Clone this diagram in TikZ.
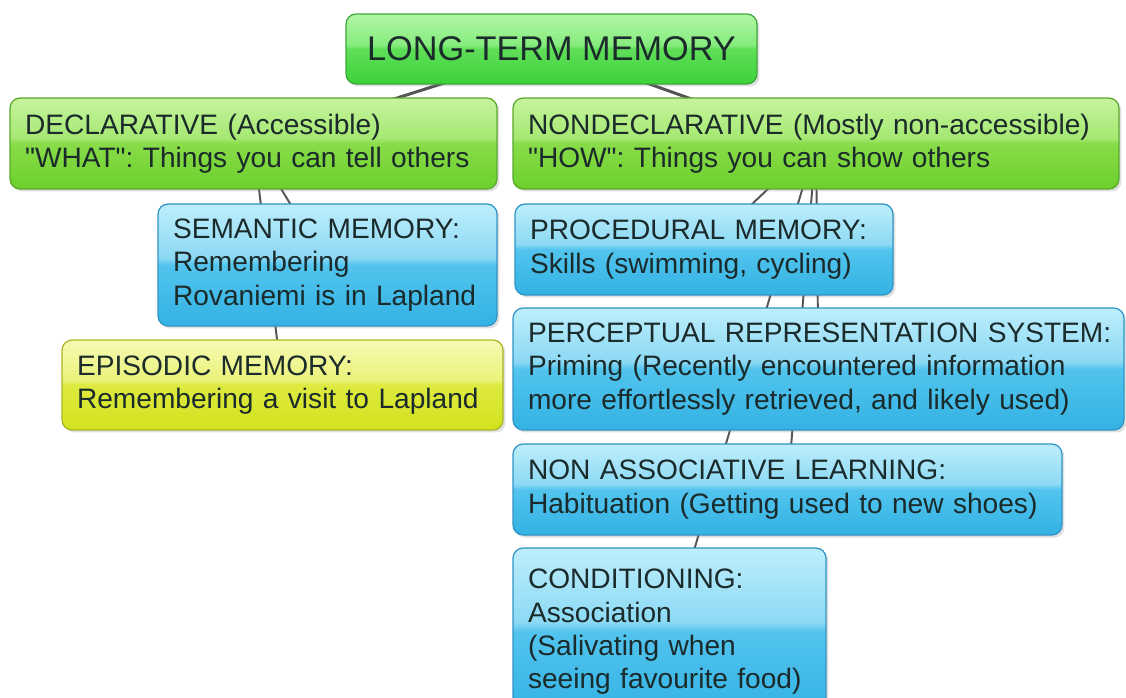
\documentclass[tikz,border=0pt]{standalone}
\usepackage{fontspec}
\setmainfont{Liberation Sans}[Ligatures=TeXOff]
\usetikzlibrary{backgrounds,shadows}
\frenchspacing

\definecolor{linkgray}{HTML}{555555}
\definecolor{textdark}{HTML}{1B2A2A}
% root green
\definecolor{rootD}{HTML}{3CD23A}
\definecolor{rootM}{HTML}{5FDE58}
\definecolor{rootG}{HTML}{86EC7E}
\definecolor{rootL}{HTML}{B2F7A6}
\definecolor{rootB}{HTML}{3AA838}
% branch green
\definecolor{branchD}{HTML}{6CD02C}
\definecolor{branchM}{HTML}{88DC48}
\definecolor{branchG}{HTML}{A6E872}
\definecolor{branchL}{HTML}{C6F49E}
\definecolor{branchB}{HTML}{5AA82A}
% leaf blue
\definecolor{blueD}{HTML}{33B2E3}
\definecolor{blueM}{HTML}{52C4EE}
\definecolor{blueG}{HTML}{8CD9F4}
\definecolor{blueL}{HTML}{BEEEFC}
\definecolor{blueB}{HTML}{2F94C6}
% leaf yellow
\definecolor{yelD}{HTML}{D2E21C}
\definecolor{yelM}{HTML}{DEEA40}
\definecolor{yelG}{HTML}{EAF27A}
\definecolor{yelL}{HTML}{F6FAB4}
\definecolor{yelB}{HTML}{A9B521}

\pgfdeclareverticalshading{rootshade}{100bp}{color(0bp)=(rootD);color(25bp)=(rootD);color(50bp)=(rootM);color(53bp)=(rootG);color(75bp)=(rootL);color(100bp)=(rootL)}
\pgfdeclareverticalshading{branchshade}{100bp}{color(0bp)=(branchD);color(25bp)=(branchD);color(50bp)=(branchM);color(53bp)=(branchG);color(75bp)=(branchL);color(100bp)=(branchL)}
\pgfdeclareverticalshading{blueshade}{100bp}{color(0bp)=(blueD);color(25bp)=(blueD);color(50bp)=(blueM);color(53bp)=(blueG);color(75bp)=(blueL);color(100bp)=(blueL)}
\pgfdeclareverticalshading{yelshade}{100bp}{color(0bp)=(yelD);color(25bp)=(yelD);color(50bp)=(yelM);color(53bp)=(yelG);color(75bp)=(yelL);color(100bp)=(yelL)}

\begin{document}
\begin{tikzpicture}[x=0.02cm, y=-0.02cm, thick,
        block/.style={rectangle, draw, rounded corners=0.2cm, line width=0.7pt, text=textdark,
            inner xsep=0.3cm, inner ysep=0pt, align=left, font=\fontsize{16}{19}\selectfont,
            drop shadow={shadow xshift=0.05cm, shadow yshift=-0.05cm, opacity=0.25}},
        root node/.style={block, shading=rootshade, draw=rootB, align=center, font=\fontsize{19.5}{22}\selectfont},
        branch node/.style={block, shading=branchshade, draw=branchB},
        leaf node/.style={block, shading=blueshade, draw=blueB},
        episodic node/.style={block, shading=yelshade, draw=yelB},
        link/.style={draw=linkgray, line width=1.1pt}]

    \useasboundingbox (0,0) rectangle (1126,697);
    \clip (0,0) rectangle (1126,697);

    % Root

    \node [root node, minimum width=8.22cm, minimum height=1.4cm] (ltm) at (551.5,49) {LONG-TERM MEMORY};

    % Branches

    \node [branch node, text width=9.14cm, minimum height=1.82cm] (decl) at (253.5,143.5)
        {DECLARATIVE (Accessible)\\"WHAT": Things you can tell others};
    \node [branch node, text width=11.52cm, minimum height=1.82cm] (nondecl) at (816,143.5)
        {NONDECLARATIVE (Mostly non-accessible)\\"HOW": Things you can show others};

    % Declarative leaves

    \node [leaf node, text width=6.18cm, minimum height=2.44cm] (sem) at (327.5,265)
        {SEMANTIC MEMORY:\\Remembering\\Rovaniemi is in Lapland};
    \node [episodic node, text width=8.22cm, minimum height=1.8cm] (epi) at (282.5,385)
        {EPISODIC MEMORY:\\Remembering a visit to Lapland};

    % Nondeclarative leaves

    \node [leaf node, text width=6.96cm, minimum height=1.82cm] (proc) at (704,249.5)
        {PROCEDURAL MEMORY:\\Skills (swimming, cycling)};
    \node [leaf node, text width=11.62cm, minimum height=2.44cm] (perc) at (818.5,369)
        {\mbox{PERCEPTUAL REPRESENTATION SYSTEM:}\\Priming (Recently encountered information\\more effortlessly retrieved, and likely used)};
    \node [leaf node, text width=10.38cm, minimum height=1.82cm] (nonassoc) at (787.5,489.5)
        {NON ASSOCIATIVE LEARNING:\\Habituation (Getting used to new shoes)};
    \node [leaf node, text width=5.66cm, minimum height=3.36cm] (cond) at (669.5,632)
        {CONDITIONING:\\Association\\(Salivating when\\seeing favourite food)};

    % Links

    \begin{scope}[on background layer]
        \path[link, line width=1.7pt]
              (ltm.center) edge (decl.center)
              (ltm.center) edge (nondecl.center);
        \foreach \leaf in {sem, epi}
            \path[link] (decl.center) edge (\leaf.center);
        \foreach \leaf in {proc, perc, nonassoc, cond}
            \path[link] (nondecl.center) edge (\leaf.center);
    \end{scope}
\end{tikzpicture}
\end{document}
